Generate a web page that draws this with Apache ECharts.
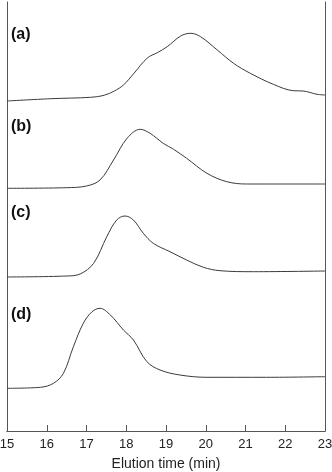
<!DOCTYPE html>
<html>
<head>
<meta charset="utf-8">
<script src="https://cdn.jsdelivr.net/npm/echarts@6/dist/echarts.min.js"></script>
<style>
  html, body { margin: 0; padding: 0; background: #fff; }
  #chart { width: 332px; height: 472px; }
</style>
</head>
<body>
<div id="chart"></div>
<script>
// Elution profiles, signal height above each trace's own baseline
const timeA = [15, 16.1, 17.1, 17.45, 17.7, 17.93, 18.2, 18.53, 18.78, 19.03, 19.37, 19.62, 19.87, 20.29, 20.7, 21.12, 21.7, 22.2, 22.45, 22.8, 23];
const sigA  = [0, 2.3, 3.7, 5.8, 10, 16, 28, 43, 48.3, 54.3, 65, 67.7, 64.3, 51, 37.7, 27.7, 16.7, 10.3, 10, 6.7, 6];

const timeB = [15, 16.5, 17.0, 17.34, 17.68, 18.02, 18.35, 18.6, 18.93, 19.19, 19.52, 20.03, 20.53, 21.03, 21.94, 23];
const sigB  = [0, 0.6, 2.3, 8.3, 28.3, 50, 59, 55, 45, 39, 30, 15, 6.6, 4.3, 4.3, 4.3];

const timeC = [15, 16.5, 16.84, 17.18, 17.51, 17.76, 17.97, 18.18, 18.43, 18.68, 19.1, 19.52, 19.94, 20.36, 21.2, 23];
const sigC  = [0, 1, 3, 13.7, 40.3, 57, 61, 57, 43.7, 33.7, 25.3, 17, 9.7, 6.3, 5.3, 6];

const timeD = [15, 15.84, 16.17, 16.42, 16.67, 16.92, 17.14, 17.34, 17.6, 17.93, 18.18, 18.52, 18.85, 19.35, 20.03, 21.53, 23];
const sigD  = [0, 1, 5, 15, 41.6, 65, 76.6, 80, 73.3, 58.3, 48.3, 26.6, 18.3, 13.3, 11, 11, 11.6];

// vertical offsets used to stack the traces
const offsets = [330, 242.7, 154, 42.7];
const panelLabels = ['(a)', '(b)', '(c)', '(d)'];
const xTicks = [15, 16, 17, 18, 19, 20, 21, 22, 23];

const traces = [[timeA, sigA], [timeB, sigB], [timeC, sigC], [timeD, sigD]];

const chart = echarts.init(document.getElementById('chart'));

const lineColor = '#3a3a3a';
const font = '"Liberation Sans", Arial, sans-serif';

const option = {
  animation: false,
  grid: { left: 7, right: 7, top: 2, bottom: 41, outerBoundsMode: 'none' },
  xAxis: [
    {
      type: 'value',
      min: xTicks[0],
      max: xTicks[xTicks.length - 1],
      interval: 1,
      name: 'Elution time (min)',
      nameLocation: 'middle',
      nameGap: 26,
      nameTextStyle: { fontFamily: font, fontSize: 14, color: '#222' },
      axisLine: { lineStyle: { color: '#555', width: 1 } },
      axisTick: { inside: true, length: 6, lineStyle: { color: '#555' } },
      axisLabel: { fontFamily: font, fontSize: 13, color: '#222', margin: 7 },
      splitLine: { show: false }
    },
    {
      type: 'value',
      position: 'top',
      min: 15, max: 23,
      axisLine: { show: true, lineStyle: { color: '#555', width: 1 } },
      axisTick: { show: false },
      axisLabel: { show: false },
      splitLine: { show: false }
    }
  ],
  yAxis: [
    {
      type: 'value',
      min: 0, max: 429,
      axisLine: { show: true, lineStyle: { color: '#555', width: 1 } },
      axisTick: { show: false },
      axisLabel: { show: false },
      splitLine: { show: false }
    },
    {
      type: 'value',
      position: 'right',
      min: 0, max: 429,
      axisLine: { show: true, lineStyle: { color: '#555', width: 1 } },
      axisTick: { show: false },
      axisLabel: { show: false },
      splitLine: { show: false }
    }
  ],
  series: traces.map(([t, s], i) => ({
    name: panelLabels[i],
    type: 'line',
    smooth: 0.35,
    symbol: 'none',
    lineStyle: { color: lineColor, width: 1 },
    data: t.map((x, j) => [x, offsets[i] + s[j]])
  })),
  graphic: panelLabels.map((label, i) => ({
    type: 'text',
    left: 11,
    top: [27, 119, 205, 307][i],
    style: { text: label, font: 'bold 16px ' + font, fill: '#111' }
  }))
};

chart.setOption(option);
</script>
</body>
</html>
